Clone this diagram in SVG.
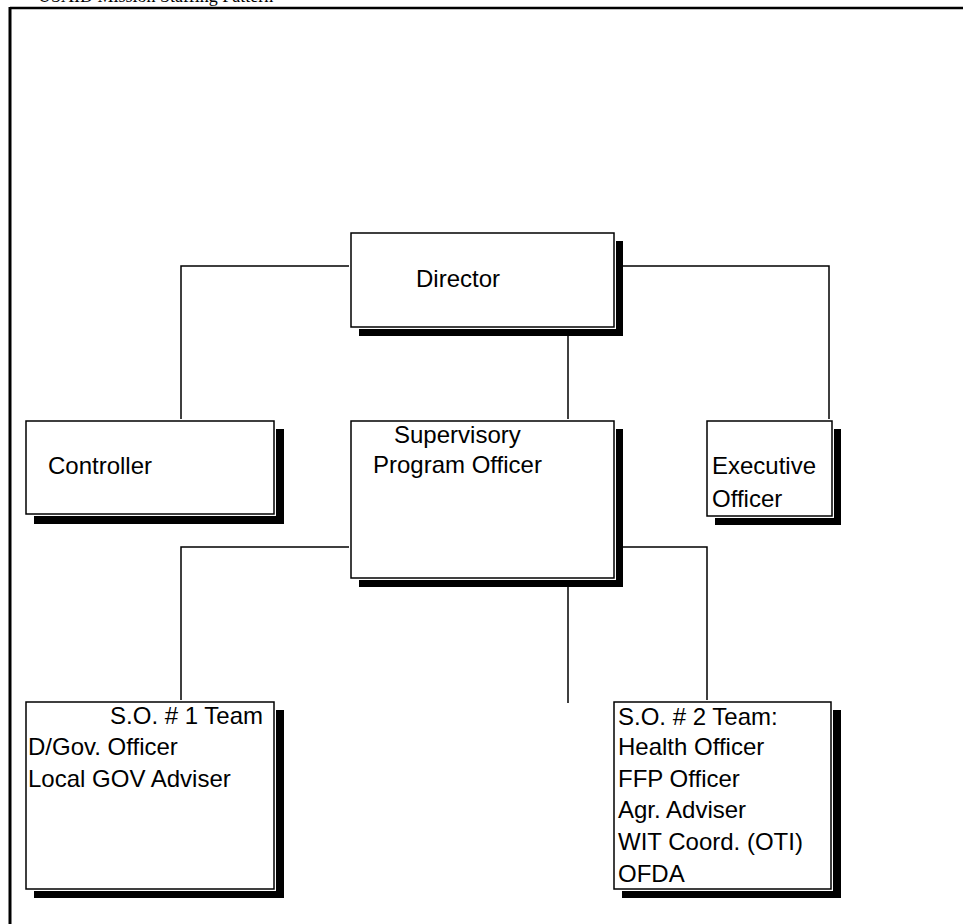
<svg xmlns="http://www.w3.org/2000/svg" width="963" height="924" viewBox="0 0 963 924">
<style>
.shadow{fill:#000}
.halo{fill:#fff;stroke:#fff;stroke-width:4}
.box{fill:#fff;stroke:#000;stroke-width:1.5}
.lbl{font-family:"Liberation Sans",Arial,sans-serif;font-size:24px;fill:#000}
.con{stroke:#000;stroke-width:1.5;fill:none}
.frame{stroke:#000;fill:none}
</style>
<rect width="963" height="924" fill="#fff"/>
<text x="38" y="1.5" font-family="'Liberation Serif','Times New Roman',serif" font-size="18" fill="#000">USAID Mission Staffing Pattern</text>
<line class="frame" x1="10" y1="8" x2="963" y2="8" stroke-width="2.5"/>
<line class="frame" x1="10" y1="7" x2="10" y2="924" stroke-width="3"/>

<g id="connectors">
<polyline class="con" points="351,266 181,266 181,421"/>
<polyline class="con" points="614,266 829,266 829,421"/>
<line class="con" x1="568" y1="327" x2="568" y2="421"/>
<polyline class="con" points="351,547 181,547 181,702"/>
<polyline class="con" points="614,547 707,547 707,702"/>
<line class="con" x1="568" y1="578" x2="568" y2="703"/>
</g>

<g id="director">
<rect class="shadow" x="359" y="241" width="264" height="95"/>
<rect class="halo" x="351" y="233" width="263" height="94"/>
<rect class="box" x="351" y="233" width="263" height="94"/>
<text class="lbl" x="416" y="287">Director</text>
</g>

<g id="controller">
<rect class="shadow" x="34" y="429" width="250" height="95"/>
<rect class="halo" x="26" y="421" width="248" height="93"/>
<rect class="box" x="26" y="421" width="248" height="93"/>
<text class="lbl" x="48" y="474">Controller</text>
</g>

<g id="supervisory-program-officer">
<rect class="shadow" x="359" y="429" width="264" height="158"/>
<rect class="halo" x="351" y="421" width="263" height="157"/>
<rect class="box" x="351" y="421" width="263" height="157"/>
<text class="lbl" x="394" y="443">Supervisory</text>
<text class="lbl" x="373" y="473">Program Officer</text>
</g>

<g id="executive-officer">
<rect class="shadow" x="715" y="429" width="126" height="96"/>
<rect class="halo" x="707" y="421" width="125" height="95"/>
<rect class="box" x="707" y="421" width="125" height="95"/>
<text class="lbl" x="712" y="474">Executive</text>
<text class="lbl" x="712" y="507">Officer</text>
</g>

<g id="so1-team">
<rect class="shadow" x="34" y="710" width="250" height="188"/>
<rect class="halo" x="26" y="702" width="248" height="187"/>
<rect class="box" x="26" y="702" width="248" height="187"/>
<text class="lbl" x="263" y="724" text-anchor="end">S.O. # 1 Team</text>
<text class="lbl" x="28" y="755">D/Gov. Officer</text>
<text class="lbl" x="28" y="787">Local GOV Adviser</text>
</g>

<g id="so2-team">
<rect class="shadow" x="622" y="710" width="219" height="188"/>
<rect class="halo" x="614" y="702" width="217" height="187"/>
<rect class="box" x="614" y="702" width="217" height="187"/>
<text class="lbl" x="618" y="725">S.O. # 2 Team:</text>
<text class="lbl" x="618" y="755">Health Officer</text>
<text class="lbl" x="618" y="787">FFP Officer</text>
<text class="lbl" x="618" y="818">Agr. Adviser</text>
<text class="lbl" x="618" y="850">WIT Coord. (OTI)</text>
<text class="lbl" x="618" y="882">OFDA</text>
</g>
</svg>
